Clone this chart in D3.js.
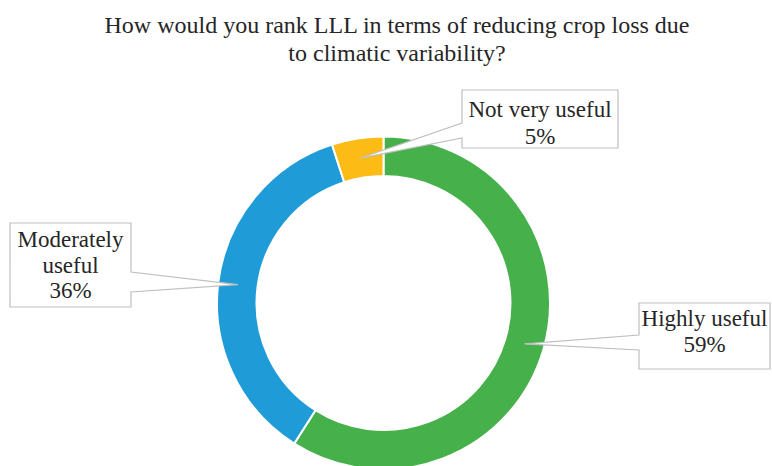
<!DOCTYPE html>
<html>
<head>
<meta charset="utf-8">
<script src="https://cdn.jsdelivr.net/npm/d3@7"></script>
<style>
  html, body { margin: 0; padding: 0; background: #fff; }
  svg { display: block; }
  text { font-family: "Liberation Serif", "Times New Roman", serif; fill: #262626; }
</style>
</head>
<body>
<svg id="chart" width="772" height="466"></svg>
<script>
const titleLines = ["How would you rank LLL in terms of reducing crop loss due", "to climatic variability?"];
const categories = ["Highly useful", "Moderately useful", "Not very useful"];
const values = [59, 36, 5];
const labelLines = [["Highly useful", "59%"], ["Moderately", "useful", "36%"], ["Not very useful", "5%"]];
const colors = ["#46B14B", "#1F9CD8", "#FDBC15"];

const W = 772, H = 466;
const cx = 383.5, cy = 303, rOuter = 166.5, rInner = 127;

const svg = d3.select("#chart");

// Title
svg.append("g").selectAll("text").data(titleLines).join("text")
  .attr("x", 397).attr("y", (d, i) => 33 + i * 28)
  .attr("text-anchor", "middle")
  .style("font-size", "24px")
  .text(d => d);

const data = categories.map((c, i) => ({ cat: c, value: values[i], lines: labelLines[i], color: colors[i] }));
const pie = d3.pie().sort(null).value(d => d.value);
const arcs = pie(data);
const arc = d3.arc().innerRadius(rInner).outerRadius(rOuter);
const mid = d3.arc().innerRadius((rInner + rOuter) / 2).outerRadius((rInner + rOuter) / 2);

const g = svg.append("g").attr("transform", `translate(${cx},${cy})`);
g.selectAll("path").data(arcs).join("path")
  .attr("d", arc)
  .attr("fill", d => d.data.color)
  .attr("stroke", "#fff")
  .attr("stroke-width", 2);

// Callout layout (box positions, wedge attachment side)
const layout = {
  "Highly useful":     { x0: 639, y0: 303, x1: 770, y1: 369, side: "left",  w0: 335, w1: 350, baselines: [326, 352] },
  "Moderately useful": { x0: 10,  y0: 223, x1: 131, y1: 307, side: "right", w0: 272, w1: 292, baselines: [247, 273, 298] },
  "Not very useful":   { x0: 462, y0: 90,  x1: 618, y1: 148, side: "left",  w0: 123, w1: 138, baselines: [117, 144] }
};

const callouts = svg.append("g");
arcs.forEach(a => {
  const L = layout[a.data.cat];
  const c = mid.centroid(a);
  const tx = cx + c[0], ty = cy + c[1];
  let p;
  if (L.side === "left") {
    p = `M${L.x0},${L.y0}H${L.x1}V${L.y1}H${L.x0}V${L.w1}L${tx},${ty}L${L.x0},${L.w0}Z`;
  } else {
    p = `M${L.x0},${L.y0}H${L.x1}V${L.w0}L${tx},${ty}L${L.x1},${L.w1}V${L.y1}H${L.x0}Z`;
  }
  callouts.append("path").attr("d", p)
    .attr("fill", "#fff").attr("stroke", "#BFBFBF").attr("stroke-width", 1.2);
  const xm = (L.x0 + L.x1) / 2;
  a.data.lines.forEach((t, i) => {
    callouts.append("text").attr("x", xm).attr("y", L.baselines[i])
      .attr("text-anchor", "middle").style("font-size", "23px").text(t);
  });
});
</script>
</body>
</html>
